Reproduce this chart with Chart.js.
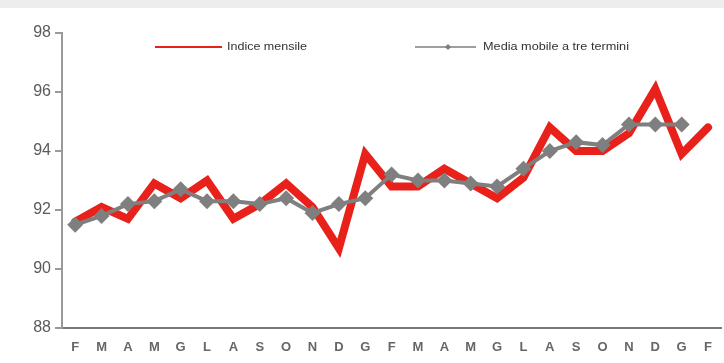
<!DOCTYPE html>
<html>
<head>
<meta charset="utf-8">
<script src="https://cdn.jsdelivr.net/npm/chart.js@4/dist/chart.umd.min.js"></script>
<style>
  html, body { margin: 0; padding: 0; background: #ffffff; }
  #wrap { position: relative; width: 724px; height: 363px; }
  #band { position: absolute; left: 0; top: 0; width: 724px; height: 8px; background: #eceeed; }
  canvas { position: absolute; left: 0; top: 0; }
</style>
</head>
<body>
<div id="wrap">
  <div id="band"></div>
  <canvas id="c" width="724" height="363"></canvas>
</div>
<script>
// Month initials, Feb through Feb two years later
const months = ['F','M','A','M','G','L','A','S','O','N','D','G','F','M','A','M','G','L','A','S','O','N','D','G','F'];

// Monthly index
const indiceMensile = [91.6, 92.1, 91.7, 92.9, 92.4, 93.0, 91.7, 92.2, 92.9, 92.1, 90.7, 93.9,
                       92.8, 92.8, 93.4, 92.9, 92.4, 93.1, 94.8, 94.0, 94.0, 94.6, 96.1, 93.9, 94.8];

// Three-term moving average
const mediaMobile = [91.5, 91.8, 92.2, 92.3, 92.7, 92.3, 92.3, 92.2, 92.4, 91.9, 92.2, 92.4,
                     93.2, 93.0, 93.0, 92.9, 92.8, 93.4, 94.0, 94.3, 94.2, 94.9, 94.9, 94.9, null];

const yTicks = [88, 90, 92, 94, 96, 98];

const RED = '#e8211b';
const GREY = '#7f7f7f';

// Draws a legend label stretched to a given width
function spacedText(ctx, text, x, y, width) {
  const w = ctx.measureText(text).width;
  ctx.save();
  ctx.translate(x, y);
  ctx.scale(width / w, 1);
  ctx.fillText(text, 0, 0);
  ctx.restore();
}

// Legend drawn on the canvas: red line entry and grey line-with-diamond entry
const legendPlugin = {
  id: 'topLegend',
  afterDraw(chart) {
    const ctx = chart.ctx;
    ctx.save();
    const y = 47;
    ctx.lineCap = 'butt';
    ctx.strokeStyle = RED;
    ctx.lineWidth = 2;
    ctx.beginPath(); ctx.moveTo(155, y); ctx.lineTo(222, y); ctx.stroke();

    ctx.strokeStyle = GREY;
    ctx.lineWidth = 1.5;
    ctx.beginPath(); ctx.moveTo(415, y); ctx.lineTo(476, y); ctx.stroke();
    ctx.fillStyle = GREY;
    ctx.beginPath();
    ctx.moveTo(448, y - 3); ctx.lineTo(451, y); ctx.lineTo(448, y + 3); ctx.lineTo(445, y);
    ctx.closePath(); ctx.fill();

    ctx.fillStyle = '#333';
    ctx.font = '10px "Liberation Sans", Arial, sans-serif';
    ctx.textBaseline = 'middle';
    ctx.textAlign = 'left';
    spacedText(ctx, 'Indice mensile', 227, y, 80);
    spacedText(ctx, 'Media mobile a tre termini', 483, y, 146);
    ctx.restore();
  }
};

new Chart(document.getElementById('c'), {
  type: 'line',
  data: {
    labels: months,
    datasets: [
      {
        label: 'Media mobile a tre termini',
        data: mediaMobile,
        borderColor: GREY,
        backgroundColor: GREY,
        borderWidth: 4,
        pointStyle: 'rectRot',
        pointRadius: 8,
        pointHoverRadius: 8,
        pointBorderWidth: 0,
        tension: 0
      },
      {
        label: 'Indice mensile',
        data: indiceMensile,
        borderColor: RED,
        backgroundColor: RED,
        borderWidth: 8,
        borderJoinStyle: 'miter',
        borderCapStyle: 'round',
        pointRadius: 0,
        pointHoverRadius: 0,
        tension: 0
      }
    ]
  },
  options: {
    responsive: false,
    animation: false,
    events: [],
    layout: { autoPadding: false, padding: { top: 33, right: 0, left: 0, bottom: 0 } },
    plugins: {
      legend: { display: false },
      tooltip: { enabled: false }
    },
    scales: {
      x: {
        offset: true,
        grid: { display: false, drawTicks: false },
        border: { display: true, color: '#777', width: 2 },
        ticks: {
          color: '#666',
          font: { family: '"Liberation Sans", Arial, sans-serif', size: 13, weight: 'bold' },
          padding: 12,
          maxRotation: 0,
          autoSkip: false
        },
        afterFit(scale) { scale.height = 35; }
      },
      y: {
        min: 88,
        max: 98,
        afterBuildTicks(scale) { scale.ticks = yTicks.map(v => ({ value: v })); },
        grid: { display: true, drawOnChartArea: false, drawTicks: true, tickLength: 7, color: '#999', lineWidth: 2 },
        border: { display: true, color: '#999', width: 2 },
        ticks: {
          color: '#5a5a5a',
          font: { family: '"Liberation Sans", Arial, sans-serif', size: 16 },
          padding: 4
        },
        afterFit(scale) { scale.width = 62; }
      }
    }
  },
  plugins: [legendPlugin]
});
</script>
</body>
</html>
